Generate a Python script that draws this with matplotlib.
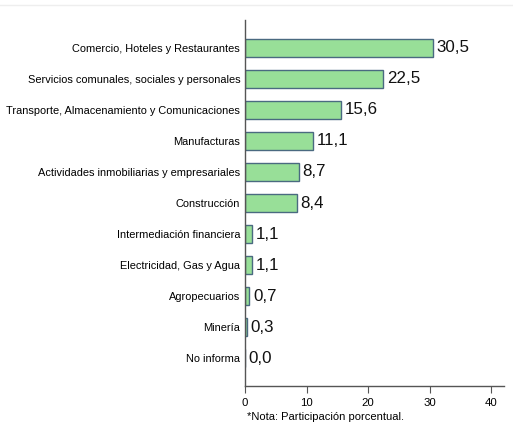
import matplotlib
matplotlib.use("Agg")
import matplotlib.pyplot as plt
from matplotlib.lines import Line2D

categories = [
    "Comercio, Hoteles y Restaurantes",
    "Servicios comunales, sociales y personales",
    "Transporte, Almacenamiento y Comunicaciones",
    "Manufacturas",
    "Actividades inmobiliarias y empresariales",
    "Construcción",
    "Intermediación financiera",
    "Electricidad, Gas y Agua",
    "Agropecuarios",
    "Minería",
    "No informa",
]
values = [30.5, 22.5, 15.6, 11.1, 8.7, 8.4, 1.1, 1.1, 0.7, 0.3, 0.0]
value_labels = ["30,5", "22,5", "15,6", "11,1", "8,7", "8,4", "1,1", "1,1", "0,7", "0,3", "0,0"]
xticks = [0, 10, 20, 30, 40]
note = "*Nota: Participación porcentual."

plt.rcParams['font.family'] = ['Liberation Sans', 'DejaVu Sans']

fig = plt.figure(figsize=(5.13, 4.26), dpi=100)
ax = fig.add_axes([245/513, 1 - 386/426, (504-245)/513, (386-20)/426])

pos = list(range(len(categories)))
ax.barh(pos, values, height=0.6, color="#98DF98", edgecolor="#4A6A80", linewidth=1.0)
for p, v, lab in zip(pos, values, value_labels):
    ax.text(v + 0.6, p, lab, va="center", ha="left", fontsize=12.2, color="#111111")

ax.set_yticks(pos)
ax.set_yticklabels(categories, fontsize=7.9)
ax.set_ylim(len(categories) - 0.1, -0.9)
ax.set_xlim(0, 42.1)
ax.set_xticks(xticks)
ax.set_xticklabels([str(t) for t in xticks], fontsize=8.2)
ax.tick_params(axis="y", length=0, pad=3.5)
ax.tick_params(axis="x", length=5, width=0.8, color="#555555", pad=3.5)
for s in ["top", "right"]:
    ax.spines[s].set_visible(False)
for s in ["left", "bottom"]:
    ax.spines[s].set_color("#555555")
    ax.spines[s].set_linewidth(1.0)

fig.text(247/513, 1 - 417/426, note, fontsize=8.0, va="center", ha="left")
fig.add_artist(Line2D([0, 1], [1 - 5/426, 1 - 5/426], color="#eeeeee", linewidth=1, transform=fig.transFigure))

fig.savefig("out.png", dpi=100)
